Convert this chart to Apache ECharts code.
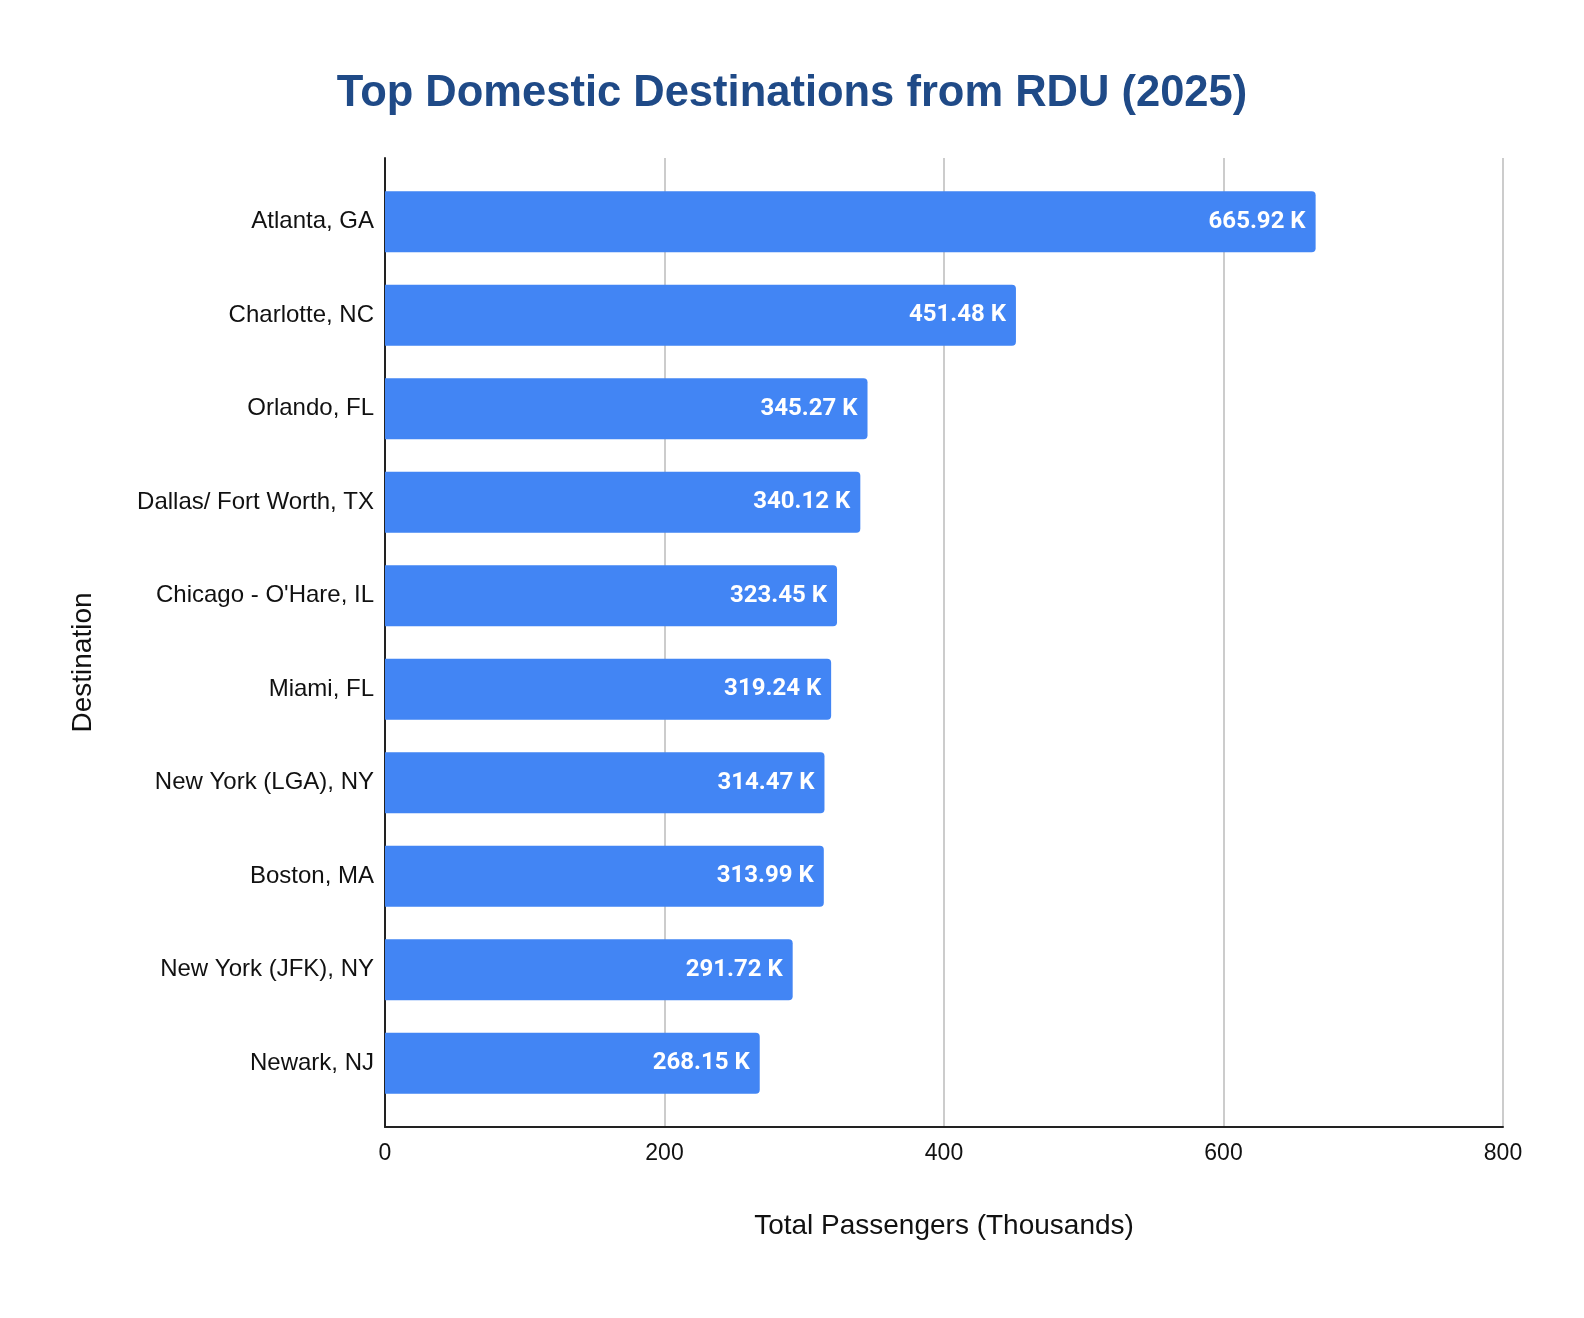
<!DOCTYPE html>
<html>
<head>
<meta charset="utf-8">
<script src="https://cdn.jsdelivr.net/npm/echarts@6/dist/echarts.min.js"></script>
<style>
  html, body { margin: 0; padding: 0; background: #fff; }
  #chart { width: 1584px; height: 1318px; }
</style>
</head>
<body>
<div id="chart"></div>
<script>
// destinations, top to bottom as drawn
var destinations = ['Atlanta, GA', 'Charlotte, NC', 'Orlando, FL', 'Dallas/ Fort Worth, TX',
  "Chicago - O'Hare, IL", 'Miami, FL', 'New York (LGA), NY', 'Boston, MA', 'New York (JFK), NY', 'Newark, NJ']
// total passengers, thousands
var passengers = [665.92, 451.48, 345.27, 340.12, 323.45, 319.24, 314.47, 313.99, 291.72, 268.15]
var xTicks = [0, 200, 400, 600, 800]

var FONT = 'Liberation Sans, Arial, sans-serif'
var chart = echarts.init(document.getElementById('chart'))

var option = {
  backgroundColor: '#ffffff',
  title: {
    text: 'Top Domestic Destinations from RDU (2025)',
    left: 'center',
    top: 67,
    textStyle: {
      color: '#1f4a87',
      fontFamily: FONT,
      fontWeight: 'bold',
      fontSize: 43.5
    }
  },
  // grid 0: frame, gridlines and x axis; grid 1: the bars, inset a little
  grid: [
    { left: 385, right: 81, top: 158, bottom: 191 },
    { left: 385, right: 81, top: 175, bottom: 208 }
  ],
  xAxis: [{
    gridIndex: 0,
    type: 'value',
    min: xTicks[0],
    max: xTicks[xTicks.length - 1],
    interval: 200,
    name: 'Total Passengers (Thousands)',
    nameLocation: 'middle',
    nameGap: 85,
    nameTextStyle: { color: '#111', fontFamily: FONT, fontSize: 28 },
    axisLine: { show: true, lineStyle: { color: '#222', width: 2 } },
    axisTick: { show: false },
    axisLabel: { color: '#111', fontFamily: FONT, fontSize: 23, margin: 15 },
    splitLine: { show: true, lineStyle: { color: '#cccccc', width: 2 } }
  }, {
    gridIndex: 1,
    type: 'value',
    min: xTicks[0],
    max: xTicks[xTicks.length - 1],
    interval: 200,
    show: false
  }],
  yAxis: [{
    gridIndex: 0,
    type: 'value',
    name: 'Destination',
    nameLocation: 'middle',
    nameGap: 288,
    nameRotate: 90,
    nameTextStyle: {
      color: '#111',
      fontFamily: FONT,
      fontSize: 28,
      padding: [0, 40, 0, 0]
    },
    axisLine: { show: true, onZero: false, lineStyle: { color: '#222', width: 2 } },
    axisTick: { show: false },
    axisLabel: { show: false },
    splitLine: { show: false }
  }, {
    gridIndex: 1,
    type: 'category',
    data: destinations,
    inverse: true,
    axisLine: { show: false },
    axisTick: { show: false },
    axisLabel: { color: '#111', fontFamily: FONT, fontSize: 24, margin: 11 },
    splitLine: { show: false }
  }],
  series: [{
    type: 'bar',
    xAxisIndex: 1,
    yAxisIndex: 1,
    data: passengers,
    barWidth: 61,
    itemStyle: {
      color: '#4285f4',
      borderRadius: [0, 4, 4, 0]
    },
    label: {
      show: true,
      position: 'insideRight',
      distance: 10,
      color: '#ffffff',
      fontFamily: 'Roboto, sans-serif',
      fontWeight: 'bold',
      fontSize: 24,
      formatter: function (p) { return p.value.toFixed(2) + ' K' }
    }
  }]
}

chart.setOption(option)
</script>
</body>
</html>
